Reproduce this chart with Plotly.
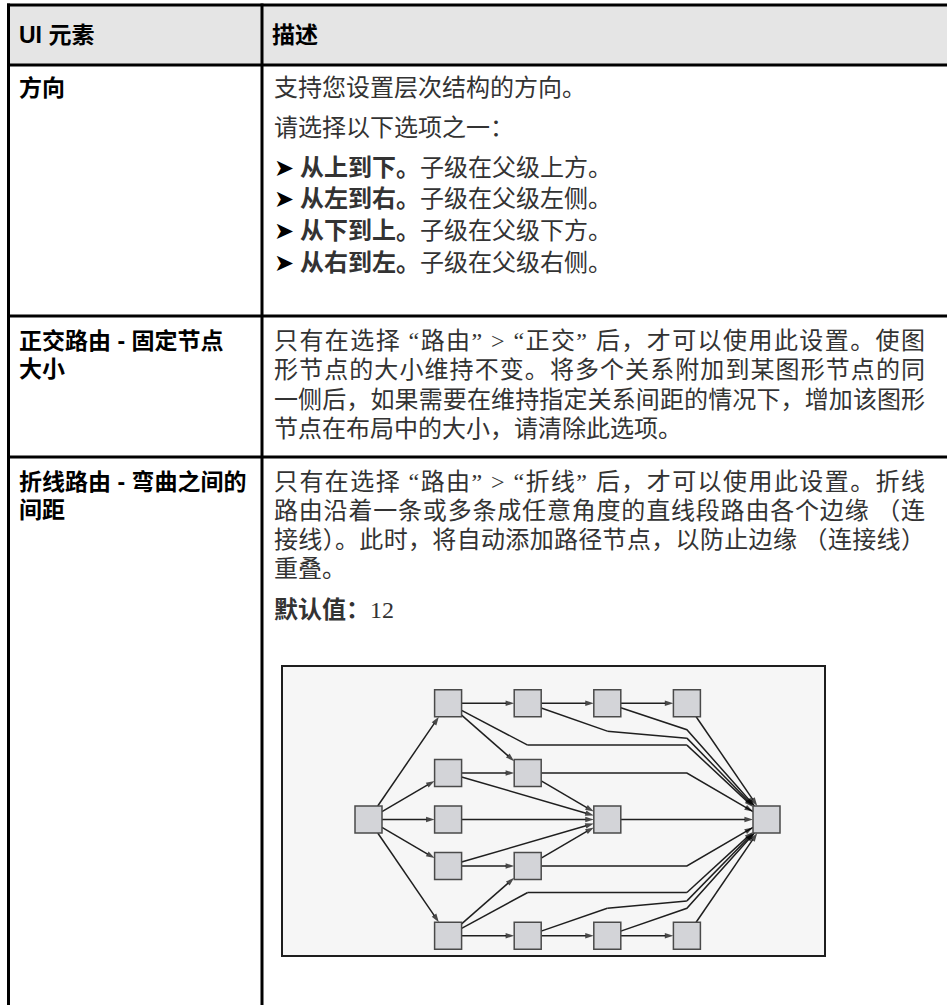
import math
import plotly.graph_objects as go

W, H = 947, 1005

# ---------------- table text data ----------------
header_labels = ["UI 元素", "描述"]
row_labels = [["方向"], ["正交路由 - 固定节点", "大小"], ["折线路由 - 弯曲之间的", "间距"]]
row1_lines = ["支持您设置层次结构的方向。", "请选择以下选项之一："]
bullet_bold = ["从上到下。", "从左到右。", "从下到上。", "从右到左。"]
bullet_text = ["子级在父级上方。", "子级在父级左侧。", "子级在父级下方。", "子级在父级右侧。"]
row2_lines = ["只有在选择 “路由” > “正交” 后，才可以使用此设置。使图",
              "形节点的大小维持不变。将多个关系附加到某图形节点的同",
              "一侧后，如果需要在维持指定关系间距的情况下，增加该图形",
              "节点在布局中的大小，请清除此选项。"]
row3_lines = ["只有在选择 “路由” > “折线” 后，才可以使用此设置。折线",
              "路由沿着一条或多条成任意角度的直线段路由各个边缘 （连",
              "接线）。此时，将自动添加路径节点，以防止边缘 （连接线）",
              "重叠。"]
default_label = "默认值："
default_value = "12"

# ---------------- diagram data (layer column, row level) ----------------
node_names = ["A", "B1", "B2", "B3", "B4", "B5", "C1", "C2", "C4", "C5",
              "D1", "D3", "D5", "E1", "E5", "F"]
node_col = [0, 1, 1, 1, 1, 1, 2, 2, 2, 2, 3, 3, 3, 4, 4, 5]
node_row = [0, -2.5, -1, 0, 1, 2.5, -2.5, -1, 1, 2.5, -2.5, 0, 2.5, -2.5, 2.5, 0]

edge_src = ["A", "A", "A", "A", "A",
            "B1", "C1", "D1", "B1", "B1", "C1", "D1", "E1",
            "B2", "B2", "C2", "C2", "B3", "D3",
            "B4", "B4", "C4", "C4", "B5", "B5",
            "B5", "C5", "D5", "C5", "D5", "E5"]
edge_tgt = ["B1", "B2", "B3", "B4", "B5",
            "C1", "D1", "E1", "C2", "F", "F", "F", "F",
            "C2", "D3", "F", "D3", "D3", "F",
            "C4", "D3", "D3", "F", "C4", "F",
            "C5", "D5", "E5", "F", "F", "F"]
edge_bends = [[], [], [], [], [],
              [], [], [], [], [(2, -1.6), (4, -1.6)], [(3, -1.9), (4, -1.75)], [(4, -1.93)], [],
              [], [], [(4, -1)], [], [], [],
              [], [], [], [(4, 1)], [], [(2, 1.57), (4, 1.57)],
              [], [], [], [(3, 1.91), (4, 1.75)], [(4, 1.91)], []]

# ---------------- geometry / style ----------------
BORDER = "#000000"
LEFT_X, DIV_X, RIGHT_X = 8.5, 262, 950
TOP_Y, HEAD_Y, ROW1_Y, ROW2_Y = 5, 65, 316, 457
LABEL_X, TEXT_X = 17, 272
JUSTIFY_W = 651
FS_LABEL, FS_DESC = 23, 24
BOX = dict(x0=282, x1=825, y0=666, y1=956)
COL0_PX, COL_PX = 368.5, 79.6
ROW0_PX, ROW_PX = 819.5, 46.5
NODE_PX = 27

fig = go.Figure()

# diagram edges
pos = {n: (c, r) for n, c, r in zip(node_names, node_col, node_row)}
HW = (NODE_PX / 2) / COL_PX
HH = (NODE_PX / 2) / ROW_PX


def clip(center, toward):
    dx = toward[0] - center[0]
    dy = toward[1] - center[1]
    tx = HW / abs(dx) if dx else math.inf
    ty = HH / abs(dy) if dy else math.inf
    t = min(tx, ty)
    return (center[0] + t * dx, center[1] + t * dy)


for s, t, b in zip(edge_src, edge_tgt, edge_bends):
    pts = [pos[s]] + list(b) + [pos[t]]
    start = clip(pts[0], pts[1])
    end = clip(pts[-1], pts[-2])
    path = [start] + list(b) + [end]
    xs = [p[0] for p in path]
    ys = [p[1] for p in path]
    fig.add_trace(go.Scatter(
        x=xs, y=ys, mode="lines+markers", xaxis="x2", yaxis="y2",
        line=dict(color="#1f1f1f", width=1.5),
        marker=dict(symbol="arrow", angleref="previous",
                    size=[0] * (len(xs) - 1) + [9], color="#000000",
                    line=dict(width=0)),
        hoverinfo="skip", showlegend=False))

fig.add_trace(go.Scatter(
    x=node_col, y=node_row, mode="markers", xaxis="x2", yaxis="y2",
    marker=dict(symbol="square", size=NODE_PX, color="#d3d4d8",
                line=dict(color="#4a4a4a", width=1.5)),
    text=node_names, hoverinfo="text", showlegend=False))

# ---------------- table shapes ----------------
shapes = [
    dict(type="rect", xref="x", yref="y", x0=LEFT_X, x1=RIGHT_X, y0=TOP_Y, y1=HEAD_Y,
         fillcolor="#e5e5e5", line=dict(width=0), layer="below"),
    dict(type="rect", xref="x", yref="y", **BOX,
         fillcolor="#f6f6f6", line=dict(color="#1e1e1e", width=2), layer="below"),
]
for y in [TOP_Y, HEAD_Y, ROW1_Y, ROW2_Y]:
    shapes.append(dict(type="line", xref="x", yref="y", x0=LEFT_X - 1.5, x1=RIGHT_X,
                       y0=y, y1=y, line=dict(color=BORDER, width=3)))
for x in [LEFT_X, DIV_X]:
    shapes.append(dict(type="line", xref="x", yref="y", x0=x, x1=x,
                       y0=TOP_Y - 1.5, y1=H + 5, line=dict(color=BORDER, width=3)))

# ---------------- annotations ----------------
LABEL_FONT = dict(family="Liberation Sans, Noto Sans CJK SC", size=FS_LABEL, color="#000000")
DESC_FONT = dict(family="Liberation Serif, Noto Sans CJK SC", size=FS_DESC, color="#333333")
ann = []


def add(x, y, text, font):
    ann.append(dict(x=x, y=y, xref="x", yref="y", text=text, showarrow=False,
                    xanchor="left", yanchor="middle", font=font))


def est_width(s, fs):
    """rough advance-width model used to spread justified lines"""
    w = 0.0
    prev_punct = False
    for ch in s:
        o = ord(ch)
        punct = ch in "，。（）：；"
        if 0x2E80 <= o <= 0x9FFF or 0xFF00 <= o <= 0xFFEF or 0x3000 <= o <= 0x303F:
            w += 1.0
            if punct and prev_punct:
                w -= 0.5
        elif ch in "“”":
            w += 0.444
        elif ch == " ":
            w += 0.25
        elif ch == ">":
            w += 0.564
        else:
            w += 0.5
        prev_punct = punct
    return w * fs


def justified(s):
    extra = JUSTIFY_W - est_width(s, FS_DESC)
    ls = max(0.0, extra / max(1, len(s) - 1))
    return "<span style='letter-spacing:%.2fpx'>%s</span>" % (ls, s)


add(LABEL_X, 35, "<b>" + header_labels[0] + "</b>", LABEL_FONT)
add(TEXT_X - 2, 35, "<b>" + header_labels[1] + "</b>", LABEL_FONT)

label_y = [[88], [341, 369], [482, 510]]
for lines, ys in zip(row_labels, label_y):
    for line, y in zip(lines, ys):
        add(LABEL_X, y, "<b>" + line + "</b>", LABEL_FONT)

add(TEXT_X, 88, row1_lines[0], DESC_FONT)
add(TEXT_X, 128, row1_lines[1], DESC_FONT)
for bb, bt, y in zip(bullet_bold, bullet_text, [168, 199, 231, 263]):
    add(TEXT_X, y,
        "<span style='font-family:DejaVu Sans;font-size:24px;color:#000'>➤</span> <b>"
        + bb + "</b>" + bt, DESC_FONT)
for i, (line, y) in enumerate(zip(row2_lines, [341, 370, 400, 429])):
    add(TEXT_X, y, justified(line) if i < len(row2_lines) - 1 else line, DESC_FONT)
for i, (line, y) in enumerate(zip(row3_lines, [482, 511, 540, 569])):
    add(TEXT_X, y, justified(line) if i < len(row3_lines) - 1 else line, DESC_FONT)
add(TEXT_X, 610, "<b>" + default_label + "</b>" + default_value, DESC_FONT)

# ---------------- layout ----------------
fig.update_layout(
    width=W, height=H, margin=dict(l=0, r=0, t=0, b=0),
    paper_bgcolor="white", plot_bgcolor="rgba(0,0,0,0)", showlegend=False,
    xaxis=dict(range=[0, W], domain=[0, 1], visible=False, fixedrange=True),
    yaxis=dict(range=[H, 0], domain=[0, 1], visible=False, fixedrange=True),
    xaxis2=dict(domain=[BOX["x0"] / W, BOX["x1"] / W],
                range=[(BOX["x0"] - COL0_PX) / COL_PX, (BOX["x1"] - COL0_PX) / COL_PX],
                anchor="y2", visible=False, fixedrange=True),
    yaxis2=dict(domain=[1 - BOX["y1"] / H, 1 - BOX["y0"] / H],
                range=[(BOX["y1"] - ROW0_PX) / ROW_PX, (BOX["y0"] - ROW0_PX) / ROW_PX],
                anchor="x2", visible=False, fixedrange=True),
    shapes=shapes, annotations=ann,
)

fig.write_html("out.html", config={"displayModeBar": False},
               post_script="document.body.style.margin='0';document.body.style.overflow='hidden';")
